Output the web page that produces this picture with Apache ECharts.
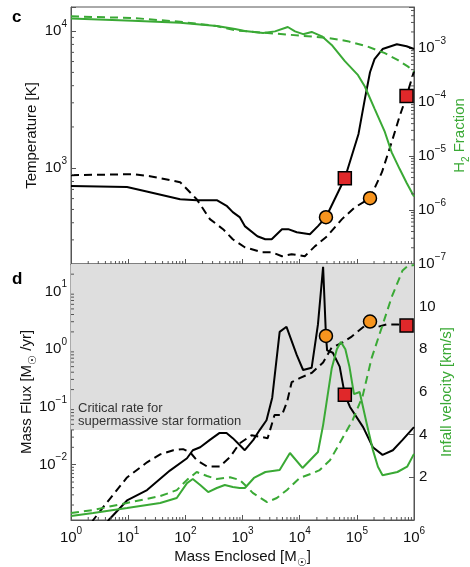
<!DOCTYPE html>
<html><head><meta charset="utf-8">
<script src="https://cdn.jsdelivr.net/npm/echarts@6.0.0/dist/echarts.min.js"></script>
<style>html,body{margin:0;padding:0;background:#fff}#c{width:470px;height:567px}</style>
</head><body><div id="c"></div>
<script>
// ---- data (mass enclosed [Msun], value) ----
const tempSolid = [[1,743],[9.55,728],[24,668],[81,594],[158,584],[355,584],[537,528],[676,478],[891,440],[1096,378],[1820,319],[2500,303],[3240,303],[4900,359],[6300,359],[8900,341],[15100,330],[20900,378],[28840,439],[61660,845],[107000,1778],[138000,3190],[170000,5010],[204000,6250],[282000,7400],[501000,8030],[741000,7760],[1e6,7400]];
const tempDashed = [[1,889],[12,904],[24,874],[81,791],[158,594],[269,425],[457,359],[676,303],[1096,265],[2190,244],[3240,244],[4900,228],[7240,236],[12300,228],[18600,270],[30200,319],[55000,425],[93300,519],[170000,604],[275000,935],[407000,1549],[562000,2400],[741000,3357],[1e6,5100]];
const h2Solid = [[1,3.55e-3],[12,3.24e-3],[81,2.95e-3],[355,2.57e-3],[740,2.26e-3],[1096,2.09e-3],[2290,1.91e-3],[3700,2.05e-3],[6200,2.47e-3],[8300,2.05e-3],[11500,1.82e-3],[16200,2.0e-3],[24500,1.66e-3],[36300,1.15e-3],[61700,5.75e-4],[105000,3.16e-4],[138000,1.95e-4],[204000,7.6e-5],[309000,2.8e-5],[407000,1.17e-5],[562000,5.75e-6],[741000,3.2e-6],[1e6,1.78e-6]];
const h2Dashed = [[1,3.89e-3],[12,3.63e-3],[81,3.09e-3],[355,2.57e-3],[740,2.14e-3],[2750,1.91e-3],[11000,1.70e-3],[31000,1.55e-3],[69000,1.35e-3],[155000,1.07e-3],[309000,8.1e-4],[525000,6.0e-4],[776000,4.6e-4],[1e6,3.7e-4]];
const fluxSolid = [[3.16,6.3e-4],[4.57,1.1e-3],[9.55,2.4e-3],[21.4,3.63e-3],[53.7,7.9e-3],[107,0.0129],[135,0.0178],[182,0.02],[269,0.0269],[398,0.0355],[525,0.0355],[676,0.0288],[891,0.0219],[1096,0.0178],[1549,0.0269],[1995,0.0398],[2630,0.0589],[3311,0.145],[4467,2.0],[5888,2.45],[8913,0.79],[11482,0.437],[16218,0.479],[20893,2.69],[25704,26.9],[28840,1.70],[30200,0.955],[38019,0.87],[50119,0.50],[61660,0.162],[75858,0.1],[128825,0.0447],[190546,0.02],[281838,0.0148],[426580,0.0178],[630957,0.0269],[1e6,0.0447]];
const fluxDashed = [[1.8,6.3e-4],[2.45,1.1e-3],[3.63,1.82e-3],[9.55,6.0e-3],[21.4,0.011],[36.3,0.0151],[61.7,0.0178],[91.2,0.0186],[120,0.0166],[158,0.012],[240,9.3e-3],[398,9.3e-3],[603,0.0135],[891,0.0234],[1445,0.0324],[2754,0.0288],[3631,0.0724],[4898,0.0724],[6026,0.123],[7244,0.269],[10000,0.316],[16218,0.389],[25704,0.589],[36308,1.07],[54954,1.29],[81283,1.66],[170000,3.02],[234423,2.45],[331131,2.69],[524807,2.69],[741000,2.57],[1e6,2.6]];
const velSolid = [[1,0.19],[2.45,0.33],[9.55,0.56],[36.3,0.8],[70.8,1.03],[107,1.73],[135,1.92],[182,1.64],[251,1.31],[355,1.5],[490,1.64],[676,1.55],[891,1.5],[1100,1.5],[1585,1.97],[2512,2.25],[4467,2.34],[6761,3.14],[11220,2.44],[20893,3.19],[25704,4.45],[29500,5.5],[36300,7.1],[44700,8.0],[52500,8.35],[63000,8.0],[74100,7.2],[89100,5.9],[112000,6.0],[148000,4.55],[190000,3.3],[234000,2.5],[281838,2.1],[512861,2.25],[758578,2.5],[1e6,3.1]];
const velDashed = [[1,0.33],[2.45,0.47],[9.55,0.8],[36.3,1.12],[70.8,1.4],[107,1.88],[158,2.25],[240,2.06],[355,1.92],[603,2.0],[891,1.88],[1200,1.55],[1510,1.27],[2690,0.84],[3980,1.03],[6000,1.41],[10000,1.97],[17000,2.2],[22400,2.34],[33900,2.8],[50100,3.6],[85100,4.7],[126000,5.8],[182000,7.6],[275000,9.05],[407000,10.45],[631000,11.7],[776000,11.9],[1e6,11.95]];
const orangeTemp = [[28840,439],[170000,604]];
const redTemp = [[61660,845],[741000,3357]];
const orangeFlux = [[28840,1.70],[170000,3.02]];
const redFlux = [[61660,0.162],[741000,2.57]];
const criticalRate = 0.04;
const velTicks = ['', '2', '4', '6', '8', '10', ''];

// axis ranges
const massRange = [1, 1e6];
const tempRange = [200, 15000];
const h2Range = [1e-7, 5.8e-3];
const fluxRange = [1.1e-3, 30];
const velRange = [0, 12];

const FONT = 'Arial, "Liberation Sans", Helvetica, sans-serif';
const AX = '#555';
const GREEN = '#3aa935';
const ORANGE = '#f7941e';
const RED = '#e0282a';

const supRich = {
  b: {fontSize: 15, lineHeight: 24, fontFamily: FONT, color: '#111'},
  s: {fontSize: 10, lineHeight: 12, verticalAlign: 'top', fontFamily: FONT, color: '#111'}
};
function powLabel(v) {
  const e = Math.log10(v);
  const r = Math.round(e);
  if (Math.abs(e - r) > 1e-6) return '';
  return '{b|10}{s|' + (r < 0 ? '\u2212' + (-r) : r) + '}';
}
const minorMult = [2,3,4,5,6,7,8,9];
function minorTicks(range) {
  const out = [];
  for (let d = Math.pow(10, Math.floor(Math.log10(range[0]))); d <= range[1]; d *= 10)
    for (const m of minorMult) { const v = m * d; if (v > range[0] && v < range[1]) out.push(v); }
  return out;
}
function tickSeries(xi, yi, pts, dx, dy) {
  return {
    type: 'custom', xAxisIndex: xi, yAxisIndex: yi, silent: true, clip: false, z: 5,
    data: pts,
    renderItem: (params, api) => {
      const p = api.coord([api.value(0), api.value(1)]);
      return {type: 'line', shape: {x1: p[0], y1: p[1], x2: p[0] + dx, y2: p[1] + dy},
        style: {stroke: AX, lineWidth: 1}};
    }
  };
}
function logAxis(extra) {
  return Object.assign({
    type: 'log', logBase: 10,
    axisLine: {show: true, lineStyle: {color: AX, width: 1}},
    axisTick: {show: true, inside: true, length: 5, lineStyle: {color: AX}},
    minorTick: {show: false},
    splitLine: {show: false},
    nameMoveOverlap: false,
    axisLabel: {formatter: powLabel, rich: supRich, margin: 4, hideOverlap: false}
  }, extra);
}
const nameStyle = (color) => ({
  fontFamily: FONT, fontSize: 15, color: color, lineHeight: 22,
  rich: {
    sub: {fontSize: 10, lineHeight: 12, verticalAlign: 'bottom', fontFamily: FONT, color: color},
    sun: {fontSize: 11, lineHeight: 12, verticalAlign: 'bottom', fontFamily: FONT, color: color}
  }
});

const chart = echarts.init(document.getElementById('c'), null, {renderer: 'canvas'});
const lineS = (data, xi, yi, color, dashed, z) => ({
  type: 'line', data: data, xAxisIndex: xi, yAxisIndex: yi, symbol: 'none', silent: true,
  lineStyle: {color: color, width: 2, type: dashed ? [8, 5] : 'solid'}, z: z || 3, animation: false
});
const markS = (data, xi, yi, sym, color) => ({
  type: 'scatter', data: data, xAxisIndex: xi, yAxisIndex: yi, symbol: sym, symbolSize: 13, silent: true,
  itemStyle: {color: color, borderColor: '#000', borderWidth: 1.5, opacity: 1}, z: 10, animation: false
});
const gridBase = {left: 71, right: 56, show: true, borderColor: AX, borderWidth: 1, backgroundColor: 'transparent',
  containLabel: false, outerBoundsMode: 'none'};

chart.setOption({
  animation: false,
  backgroundColor: '#fff',
  textStyle: {fontFamily: FONT},
  grid: [
    Object.assign({top: 7, height: 257}, gridBase),
    Object.assign({top: 264, height: 256}, gridBase)
  ],
  xAxis: [
    logAxis({gridIndex: 0, min: massRange[0], max: massRange[1], axisLabel: {show: false}}),
    logAxis({gridIndex: 1, min: massRange[0], max: massRange[1],
      axisLabel: {formatter: powLabel, rich: supRich, margin: 6},
      name: 'Mass Enclosed [M{sun|\u2609}]', nameLocation: 'middle', nameGap: 26,
      nameTextStyle: nameStyle('#111')})
  ],
  yAxis: [
    logAxis({gridIndex: 0, position: 'left', min: tempRange[0], max: tempRange[1],
      name: 'Temperature [K]', nameLocation: 'middle', nameGap: 28, nameRotate: 90,
      nameTextStyle: nameStyle('#111')}),
    logAxis({gridIndex: 0, position: 'right', min: h2Range[0], max: h2Range[1],
      name: 'H{sub|2} Fraction', nameLocation: 'middle', nameGap: 35, nameRotate: 90,
      nameTextStyle: nameStyle(GREEN)}),
    logAxis({gridIndex: 1, position: 'left', min: fluxRange[0], max: fluxRange[1],
      name: 'Mass Flux [M{sun|\u2609} /yr]', nameLocation: 'middle', nameGap: 33, nameRotate: 90,
      nameTextStyle: nameStyle('#111')}),
    {type: 'value', gridIndex: 1, position: 'right', min: velRange[0], max: velRange[1], interval: 2,
      axisLine: {show: true, lineStyle: {color: AX}},
      axisTick: {show: true, inside: true, length: 5, lineStyle: {color: AX}},
      splitLine: {show: false}, nameMoveOverlap: false,
      axisLabel: {formatter: (v) => velTicks[Math.round(v / 2)] || '', fontSize: 15, color: '#111', margin: 5, fontFamily: FONT},
      name: 'Infall velocity [km/s]', nameLocation: 'middle', nameGap: 22, nameRotate: 90,
      nameTextStyle: nameStyle(GREEN)}
  ],
  graphic: [
    {type: 'text', left: 12, top: 9, style: {text: 'c', font: 'bold 17px ' + FONT, fill: '#000'}},
    {type: 'text', left: 12, top: 271, style: {text: 'd', font: 'bold 17px ' + FONT, fill: '#000'}}
  ],
  series: [
    tickSeries(0, 0, minorTicks(tempRange).map(v => [massRange[0], v]), 3, 0),
    tickSeries(0, 1, minorTicks(h2Range).map(v => [massRange[1], v]), -3, 0),
    tickSeries(0, 0, minorTicks(massRange).map(v => [v, tempRange[0]]), 0, -3),
    tickSeries(1, 2, minorTicks(fluxRange).map(v => [massRange[0], v]), 3, 0),
    tickSeries(1, 2, minorTicks(massRange).map(v => [v, fluxRange[0]]), 0, -3),
    Object.assign(lineS(fluxSolid, 1, 2, '#000', false), {
      markArea: {silent: true, itemStyle: {color: '#dedede'},
        label: {show: true, position: 'insideBottomLeft', distance: 2, offset: [5, 0], color: '#333', fontSize: 13, lineHeight: 13,
          fontFamily: FONT, formatter: 'Critical rate for\nsupermassive star formation'},
        data: [[{yAxis: criticalRate}, {yAxis: fluxRange[1]}]]}
    }),
    lineS(fluxDashed, 1, 2, '#000', true),
    lineS(velSolid, 1, 3, GREEN, false, 4),
    lineS(velDashed, 1, 3, GREEN, true, 4),
    lineS(tempSolid, 0, 0, '#000', false),
    lineS(tempDashed, 0, 0, '#000', true),
    lineS(h2Solid, 0, 1, GREEN, false, 4),
    lineS(h2Dashed, 0, 1, GREEN, true, 4),
    markS(orangeTemp, 0, 0, 'circle', ORANGE),
    markS(redTemp, 0, 0, 'rect', RED),
    markS(orangeFlux, 1, 2, 'circle', ORANGE),
    markS(redFlux, 1, 2, 'rect', RED)
  ]
});
</script></body></html>
